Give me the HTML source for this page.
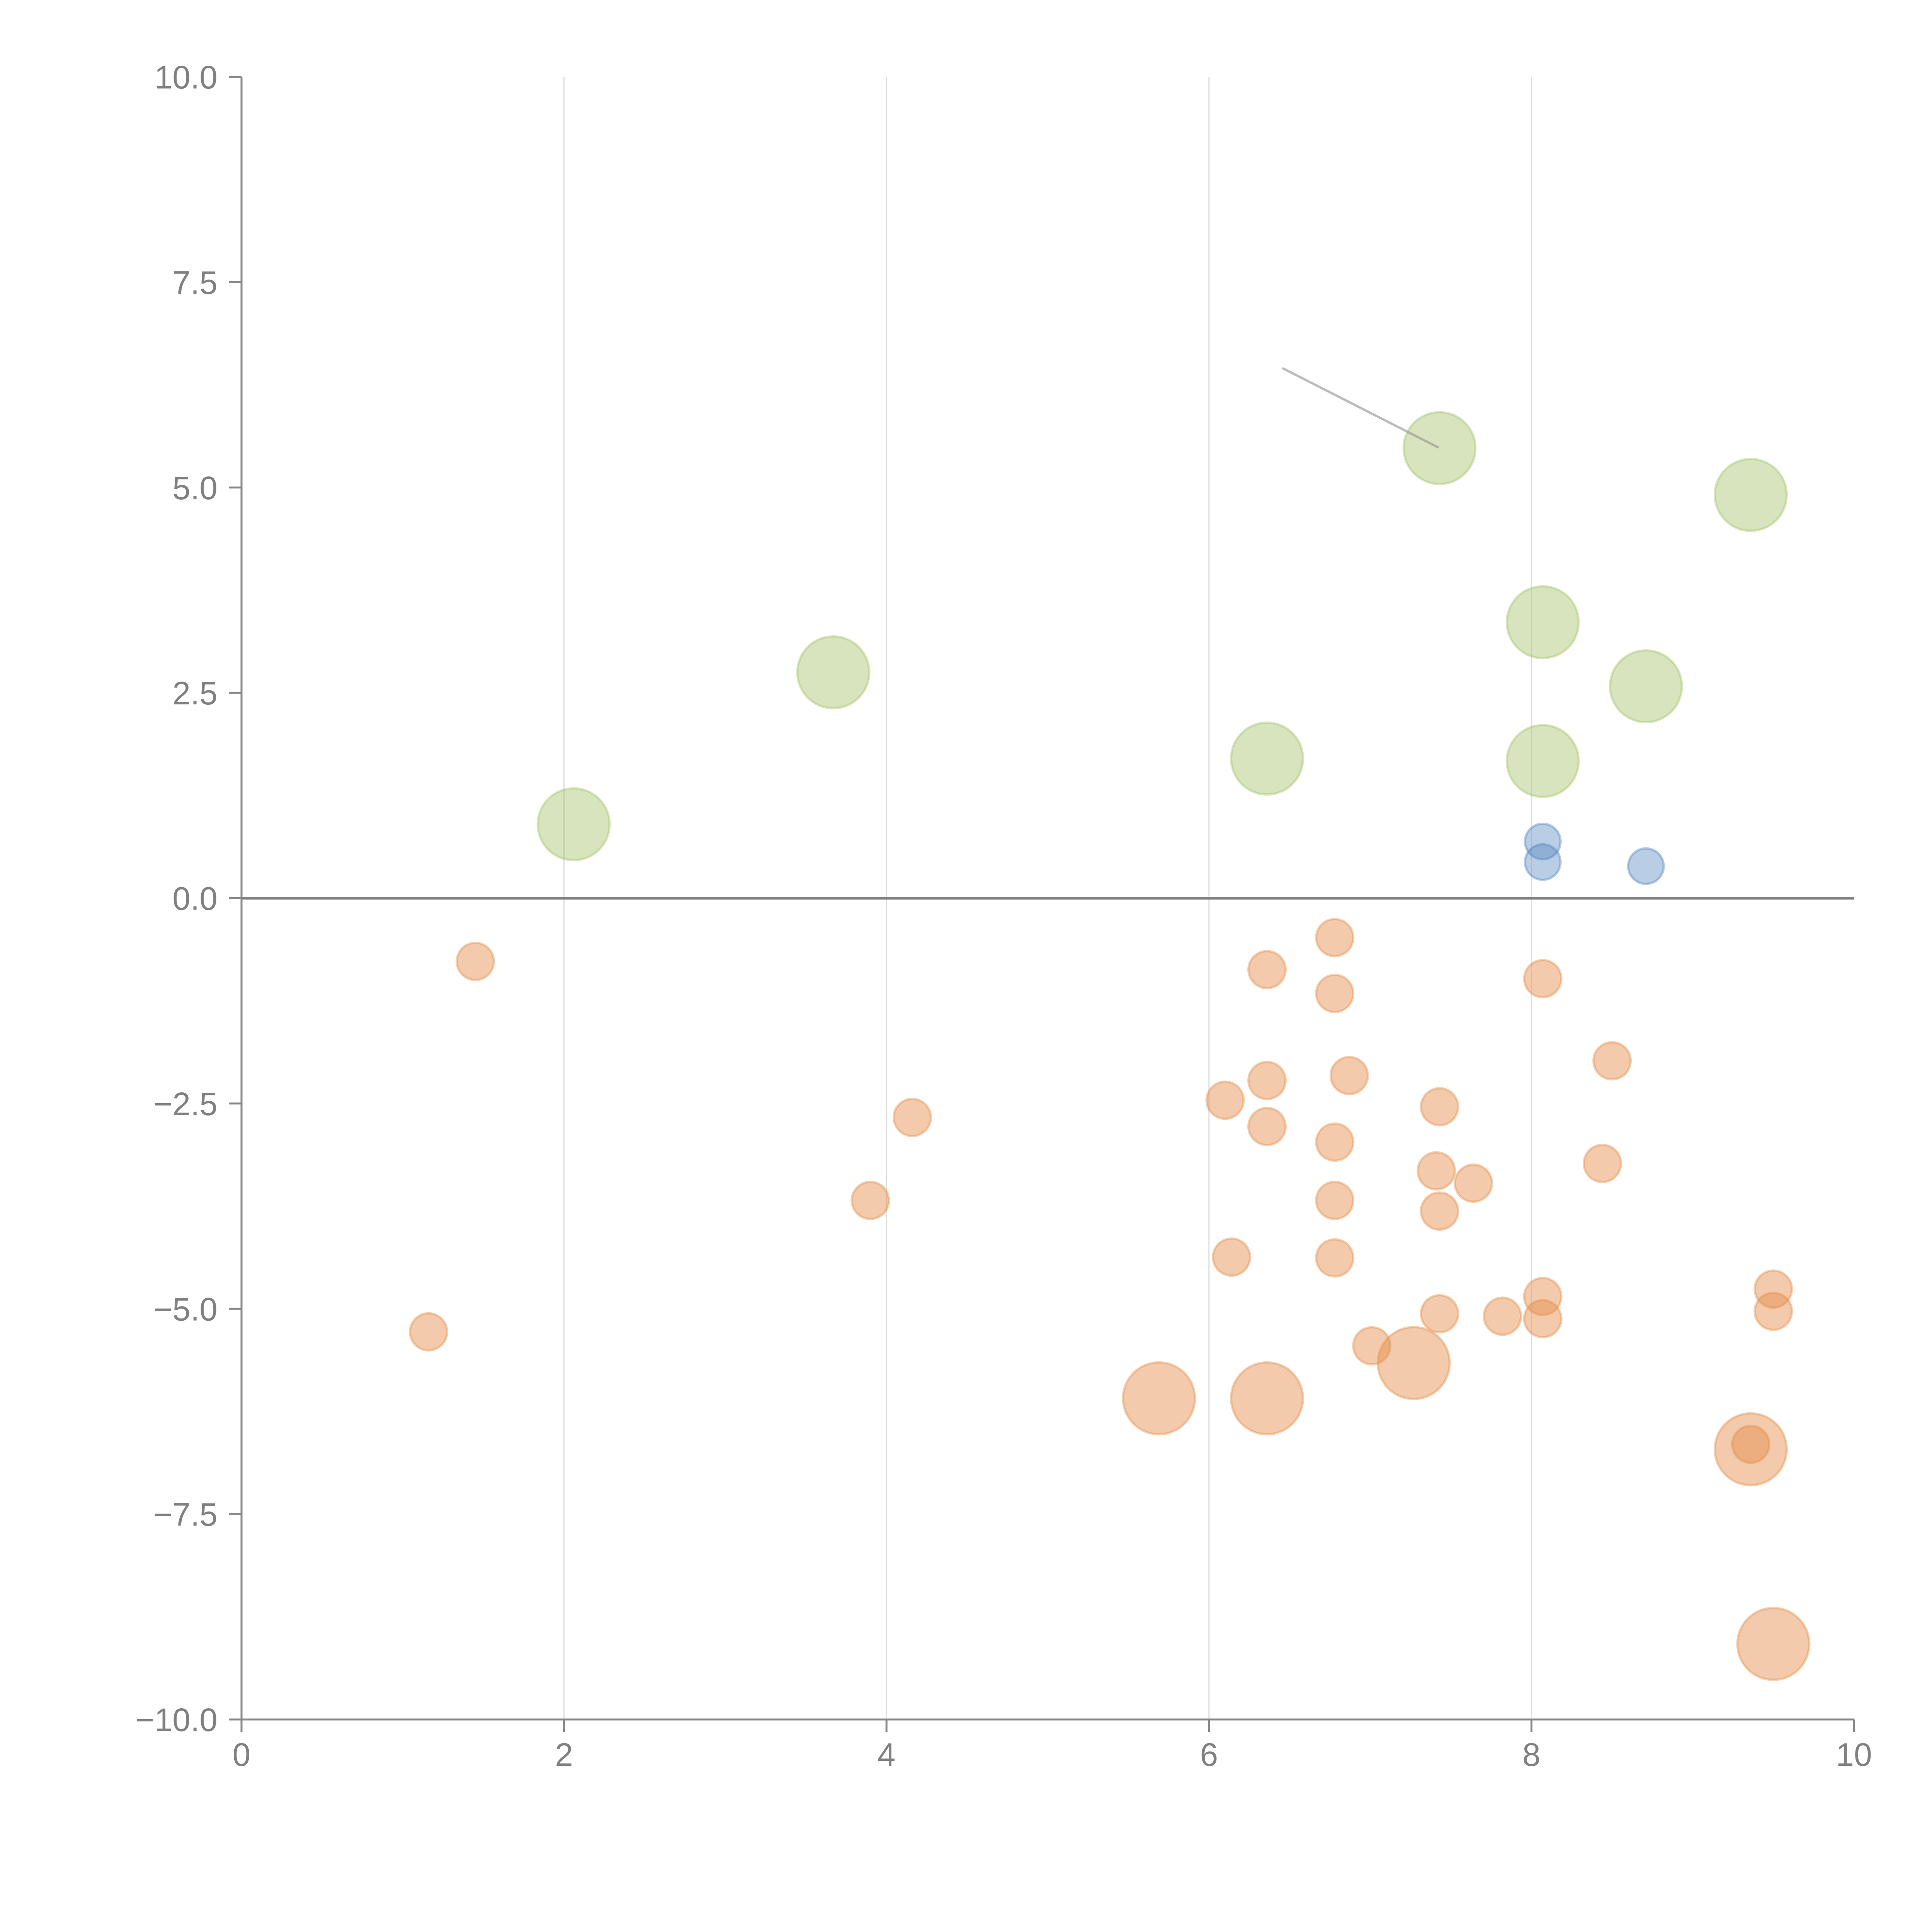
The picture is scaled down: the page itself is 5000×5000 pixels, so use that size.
<!DOCTYPE html>
<html><head><meta charset="utf-8"><style>
html,body{margin:0;padding:0;background:#fff;}
svg{display:block;}
text{font-family:"Liberation Sans",Arial,sans-serif;fill:#808080;font-size:84px;}
</style></head>
<body>
<svg id="chart" width="5000" height="5000" viewBox="0 0 5000 5000" xmlns="http://www.w3.org/2000/svg">
<rect width="5000" height="5000" fill="#fff"/>
<g id="grid"></g>
<g id="axes"></g>
<g id="marks"></g>
</svg>
<script>
const xTicks = [0, 2, 4, 6, 8, 10];
const yTicks = [10, 7.5, 5, 2.5, 0, -2.5, -5, -7.5, -10];
const yTickLabels = ["10.0", "7.5", "5.0", "2.5", "0.0", "\u22122.5", "\u22125.0", "\u22127.5", "\u221210.0"];
const greenX = [7.43, 9.36, 8.07, 8.71, 8.07, 6.36, 3.67, 2.06];
const greenY = [5.48, 4.91, 3.36, 2.58, 1.67, 1.70, 2.75, 0.90];
const blueX = [8.07, 8.07, 8.71];
const blueY = [0.69, 0.44, 0.39];
const orangeSmallX = [1.45, 1.16, 4.16, 3.90, 6.36, 6.78, 6.78, 6.36, 6.10, 6.36, 6.87, 6.78, 6.78, 6.14, 6.78, 7.43, 7.41, 7.64, 7.43, 8.07, 8.50, 8.44, 7.43, 7.01, 7.82, 8.07, 8.07, 9.50, 9.50, 9.36];
const orangeSmallY = [-0.77, -5.28, -2.67, -3.68, -0.87, -0.48, -1.16, -2.22, -2.46, -2.78, -2.16, -2.97, -3.68, -4.37, -4.38, -2.54, -3.32, -3.47, -3.81, -0.98, -1.98, -3.23, -5.06, -5.45, -5.09, -4.85, -5.12, -4.76, -5.03, -6.65];
const orangeLargeX = [5.69, 6.36, 7.27, 9.36, 9.50];
const orangeLargeY = [-6.09, -6.09, -5.66, -6.71, -9.08];
const trailX = [6.46, 7.42];
const trailY = [6.45, 5.49];

const X0 = 625, X1 = 4798, Y0 = 199, Y1 = 4450;
const sx = v => X0 + (v - 0) / 10 * (X1 - X0);
const sy = v => Y1 - (v + 10) / 20 * (Y1 - Y0);
const NS = "http://www.w3.org/2000/svg";
function mk(tag, attrs, parent) {
  const e = document.createElementNS(NS, tag);
  for (const k in attrs) e.setAttribute(k, attrs[k]);
  parent.appendChild(e);
  return e;
}
const grid = document.getElementById('grid');
const axes = document.getElementById('axes');
const marks = document.getElementById('marks');

xTicks.forEach((t, i) => {
  if (t > 0 && t < 10) {
    const g = mk('line', {x1: sx(t), x2: sx(t), y1: Y0, y2: Y1, stroke: '#dcdcdc', 'stroke-width': 3}, grid);
    
    
  }
  const tk = mk('line', {x1: sx(t), x2: sx(t), y1: Y1, y2: Y1 + 32, stroke: '#888', 'stroke-width': 5}, axes);
  
  
  const lb = mk('text', {x: sx(t), y: Y1 + 120, 'text-anchor': 'middle'}, axes);
  lb.textContent = String(t);
  
  
});
yTicks.forEach((t, i) => {
  const tk = mk('line', {x1: X0 - 33, x2: X0, y1: sy(t), y2: sy(t), stroke: '#888', 'stroke-width': 5}, axes);
  
  
  const lb = mk('text', {x: X0 - 62, y: sy(t) + 30, 'text-anchor': 'end'}, axes);
  lb.textContent = yTickLabels[i];
  
  
});
const ya = mk('line', {x1: X0, x2: X0, y1: Y0, y2: Y1 + 32, stroke: '#888', 'stroke-width': 5}, axes);


const xa = mk('line', {x1: X0, x2: X1, y1: Y1, y2: Y1, stroke: '#888', 'stroke-width': 5}, axes);


const zl = mk('line', {x1: X0, x2: X1, y1: sy(0), y2: sy(0), stroke: '#808080', 'stroke-width': 7}, axes);



function series(xs, ys, r, fill, stroke, name) {
  xs.forEach((x, i) => {
    const c = mk('circle', {cx: sx(x), cy: sy(ys[i]), r: r, fill: fill, stroke: stroke, 'stroke-width': 6}, marks);
    
    
  });
}
series(greenX, greenY, 93, 'rgba(155,187,89,0.4)', 'rgba(155,187,89,0.35)', 'green-bubble');
series(orangeLargeX, orangeLargeY, 93, 'rgba(228,140,70,0.45)', 'rgba(228,140,70,0.4)', 'orange-large-bubble');
series(orangeSmallX, orangeSmallY, 48, 'rgba(228,140,70,0.45)', 'rgba(228,140,70,0.4)', 'orange-bubble');
series(blueX, blueY, 46, 'rgba(79,129,189,0.4)', 'rgba(79,129,189,0.4)', 'blue-bubble');

const tr = mk('line', {x1: sx(trailX[0]), y1: sy(trailY[0]), x2: sx(trailX[1]), y2: sy(trailY[1]), stroke: 'rgba(150,150,150,0.65)', 'stroke-width': 6, 'stroke-linecap': 'round'}, marks);


</script>
</body></html>
